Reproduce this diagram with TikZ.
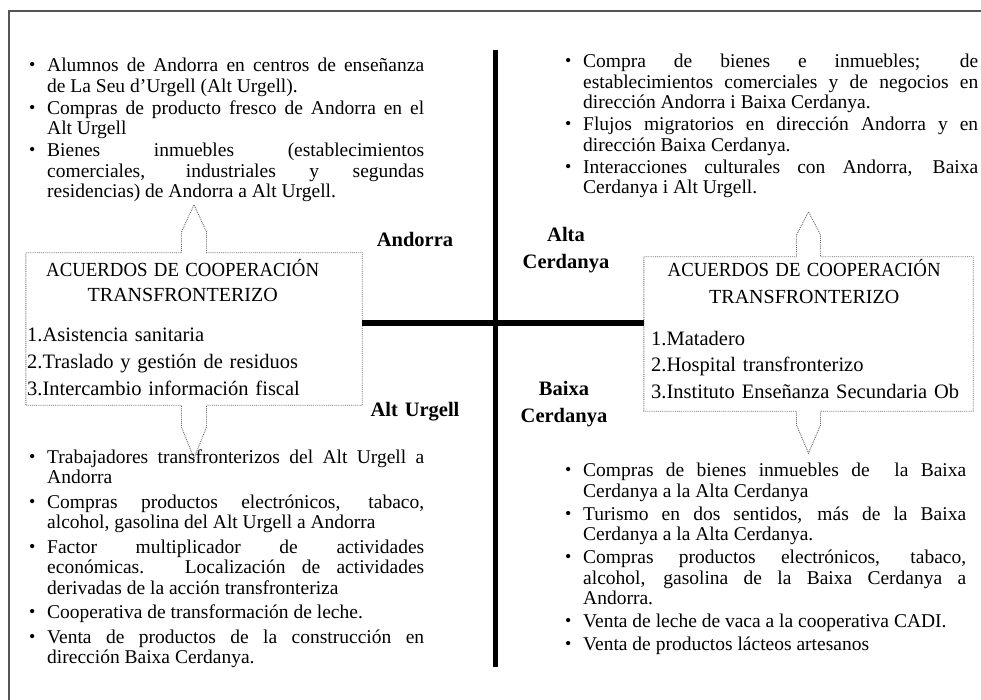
\documentclass[tikz,border=0pt]{standalone}
\usepackage{fontspec}
\setmainfont{Liberation Serif}
\usepackage{graphicx}
\usepackage{tikz}
\usetikzlibrary{calc}
\setlength{\parindent}{0pt}
\definecolor{framegray}{HTML}{555555}
\definecolor{dotgray}{HTML}{6A6A6A}
\newcommand{\bitem}{\noindent\hangindent=19pt\hangafter=1\makebox[19pt][l]{\hspace{1pt}\raisebox{0.1ex}{\scalebox{0.92}{\textbullet}}}}
\newcommand{\cooptitle}{\scalebox{0.94}[1]{ACUERDOS DE COOPERACIÓN}\\TRANSFRONTERIZO}
\tikzset{
  flows/.style={anchor=base west,inner sep=0pt,align=justify,font=\fontsize{19.5}{20.5}\selectfont\setlength{\parskip}{#1}},
  flows/.default=1.5pt,
  coopbox/.style={rectangle,inner sep=0pt,draw=none},
  cooptext/.style={anchor=base west,inner sep=0pt,align=left,font=\fontsize{20.5}{26.7}\selectfont},
  region/.style={anchor=base,inner sep=0pt,text width=110pt,align=center,font=\fontsize{20.5}{27}\selectfont\bfseries},
  border/.style={line width=5.5pt,draw=black},
  tab/.style={densely dotted,draw=dotgray,line width=0.9pt}
}

\begin{document}
\begin{tikzpicture}[x=1pt,y=-1pt]
\fill[white] (0,0) rectangle (981,700);
\useasboundingbox (0,0) rectangle (981,700);
\draw[framegray,line width=1.5pt] (9,700) |- (981,11);
% quadrant lines
\coordinate (vtop) at (495.5,50);
\coordinate (vbot) at (495.5,667);
\coordinate (hmid) at (495.5,323);
% cooperation boxes
\node[coopbox,minimum width=336pt,minimum height=152pt] (lbox) at (194,329) {};
\node[coopbox,minimum width=329pt,minimum height=154pt] (rbox) at (808.5,334) {};
\draw[tab] (lbox.north west) -- ($(lbox.north)+(-12.5,0)$) -- ++(0,-21) -- ++(12.5,-27) -- ++(12.5,27) -- ++(0,21)
  -- (lbox.north east) -- (lbox.south east) -- ($(lbox.south)+(12.5,0)$) -- ++(0,22) -- ++(-12.5,31) -- ++(-12.5,-31) -- ++(0,-22)
  -- (lbox.south west) -- cycle;
\draw[tab] (rbox.north west) -- ($(rbox.north)+(-12,0)$) -- ++(0,-22) -- ++(12,-23) -- ++(12,23) -- ++(0,22)
  -- (rbox.north east) -- (rbox.south east) -- ($(rbox.south)+(12,0)$) -- ++(0,14) -- ++(-12,28) -- ++(-12,-28) -- ++(0,-14)
  -- (rbox.south west) -- cycle;
\node[cooptext,text width=311pt] (ltext) at (27,276.7) {%
  {\centering\fontsize{20}{25}\selectfont\cooptitle\par}
  \vspace{13.3pt}
  1.Asistencia sanitaria\\
  2.Traslado y gestión de residuos\\
  3.Intercambio información fiscal};
\node[cooptext,text width=306pt] (rtext) at (651,276.7) {%
  {\centering\fontsize{20}{26.6}\selectfont\cooptitle\par}
  \vspace{15pt}
  1.Matadero\\
  2.Hospital transfronterizo\\
  \makebox[300pt][s]{3.Instituto Enseñanza Secundaria Ob}};
\draw[border] (vtop) -- (vbot);
\draw[border] (lbox.east |- hmid) -- (rbox.west |- hmid);
% region names
\node[region] (andorra) at (415,246.7) {Andorra};
\node[region] (urgell) at (415,416.7) {Alt Urgell};
\node[region] (alta) at (566,241.7) {Alta\\Cerdanya};
\node[region] (baixa) at (564,395) {Baixa\\Cerdanya};
% flows
\node[flows,text width=396pt] (flowan) at (28,71.7) {%
  \bitem Alumnos de Andorra en centros de enseñanza\linebreak de La Seu d'Urgell (Alt Urgell).\par
  \bitem Compras de producto fresco de Andorra en el\linebreak Alt Urgell\par
  \bitem Bienes inmuebles (establecimientos\linebreak comerciales, industriales y segundas\linebreak residencias) de Andorra a Alt Urgell.\par};
\node[flows,text width=414pt] (flowac) at (564,67.7) {%
  \bitem Compra de bienes e inmuebles; de\linebreak establecimientos comerciales y de negocios en\linebreak dirección Andorra i Baixa Cerdanya.\par
  \bitem Flujos migratorios en dirección Andorra y en\linebreak dirección Baixa Cerdanya.\par
  \bitem Interacciones culturales con Andorra, Baixa\linebreak Cerdanya i Alt Urgell.\par};
\node[flows=4pt,text width=396pt] (flowau) at (28,463.3) {%
  \bitem Trabajadores transfronterizos del Alt Urgell a\linebreak Andorra\par
  \bitem Compras productos electrónicos, tabaco,\linebreak alcohol, gasolina del Alt Urgell a Andorra\par
  \bitem Factor multiplicador de actividades\linebreak económicas. Localización de actividades\linebreak derivadas de la acción transfronteriza\par
  \bitem Cooperativa de transformación de leche.\par
  \bitem Venta de productos de la construcción en\linebreak dirección Baixa Cerdanya.\par};
\node[flows=2.5pt,text width=402pt] (flowbc) at (564,476.7) {%
  \bitem Compras de bienes inmuebles de\ \ la Baixa\linebreak Cerdanya a la Alta Cerdanya\par
  \bitem Turismo en dos sentidos, más de la Baixa\linebreak Cerdanya a la Alta Cerdanya.\par
  \bitem Compras productos electrónicos, tabaco,\linebreak alcohol, gasolina de la Baixa Cerdanya a\linebreak Andorra.\par
  \bitem Venta de leche de vaca a la cooperativa CADI.\par
  \bitem Venta de productos lácteos artesanos\par};
\end{tikzpicture}
\end{document}
